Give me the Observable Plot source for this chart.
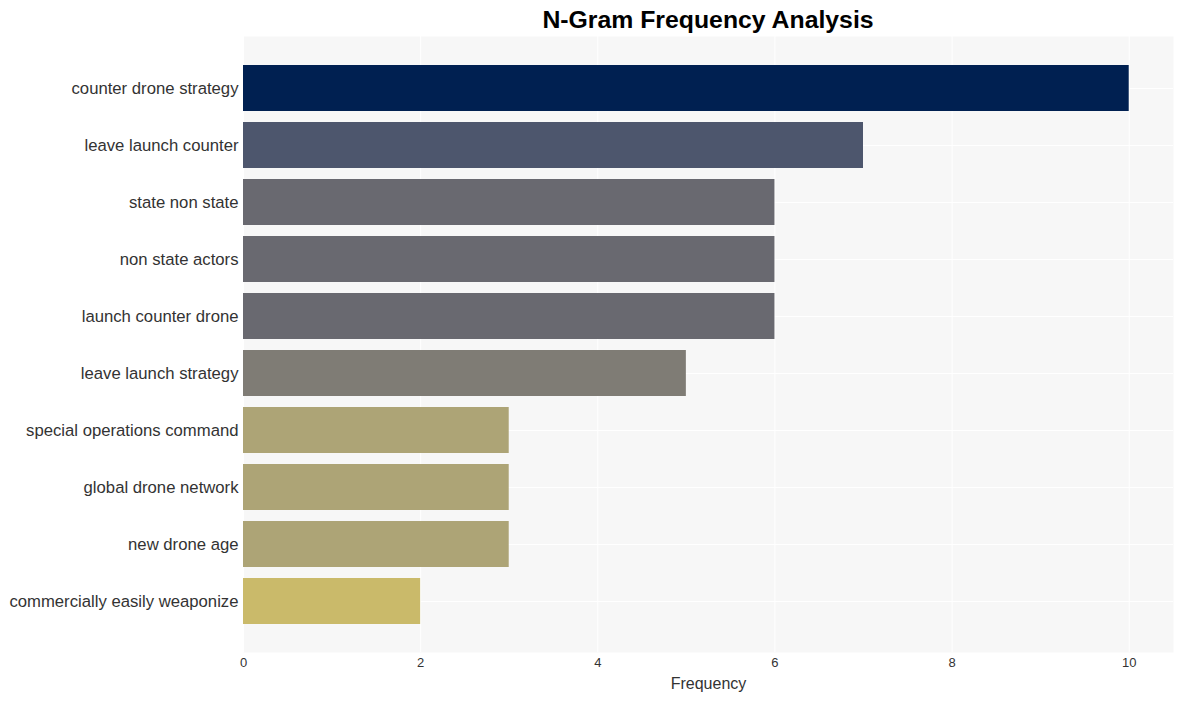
<!DOCTYPE html>
<html>
<head>
<meta charset="utf-8">
<script src="https://cdn.jsdelivr.net/npm/d3@7"></script>
<script src="https://cdn.jsdelivr.net/npm/@observablehq/plot@0.6"></script>
<style>
  html, body { margin: 0; padding: 0; background: #fff; }
  body { width: 1183px; height: 701px; overflow: hidden; font-family: "Liberation Sans", Arial, Helvetica, sans-serif; }
  #title { height: 36px; line-height: 40px; font-size: 24.8px; font-weight: bold; color: #000; text-align: center; padding-left: 233px; width: 1183px; box-sizing: border-box; }
</style>
</head>
<body>
<div id="title">N-Gram Frequency Analysis</div>
<div id="chart"></div>
<script>
const ngrams = [
  "counter drone strategy",
  "leave launch counter",
  "state non state",
  "non state actors",
  "launch counter drone",
  "leave launch strategy",
  "special operations command",
  "global drone network",
  "new drone age",
  "commercially easily weaponize"
];
const counts = [10, 7, 6, 6, 6, 5, 3, 3, 3, 2];
const xTicks = [0, 2, 4, 6, 8, 10];
const xLabel = "Frequency";

const data = ngrams.map((g, i) => ({ngram: g, count: counts[i]}));

const chart = Plot.plot({
  width: 1183,
  height: 665,
  marginTop: 0,
  marginBottom: 49,
  marginLeft: 243,
  marginRight: 10,
  style: { fontFamily: "'Liberation Sans', Arial, Helvetica, sans-serif", background: "white" },
  x: { domain: [0, 10.5] },
  y: { domain: ngrams, paddingInner: 0.2, paddingOuter: 0.5 },
  color: { type: "linear", scheme: "cividis", domain: [0, 10], reverse: true },
  marks: [
    Plot.frame({ fill: "#f7f7f7", stroke: null }),
    Plot.gridX({ ticks: xTicks, stroke: "white", strokeOpacity: 1, strokeWidth: 1 }),
    Plot.gridY({ stroke: "white", strokeOpacity: 1, strokeWidth: 1 }),
    Plot.barX(data, { x: "count", y: "ngram", fill: "count" }),
    Plot.axisX({ ticks: xTicks, tickSize: 0, tickPadding: 5, fontSize: 13, color: "#333", label: xLabel, labelAnchor: "center", labelArrow: "none", labelOffset: 36 }),
    Plot.axisY({ tickSize: 0, tickPadding: 5, fontSize: 16.7, color: "#333", label: null })
  ]
});
document.getElementById("chart").appendChild(chart);
chart.querySelectorAll("g[aria-label='x-axis tick label']").forEach(g => { g.setAttribute("font-size", 13); });
chart.querySelectorAll("g[aria-label='x-axis label'] text").forEach(t => { t.setAttribute("font-size", 16); t.setAttribute("fill", "#333"); });
</script>
</body>
</html>
